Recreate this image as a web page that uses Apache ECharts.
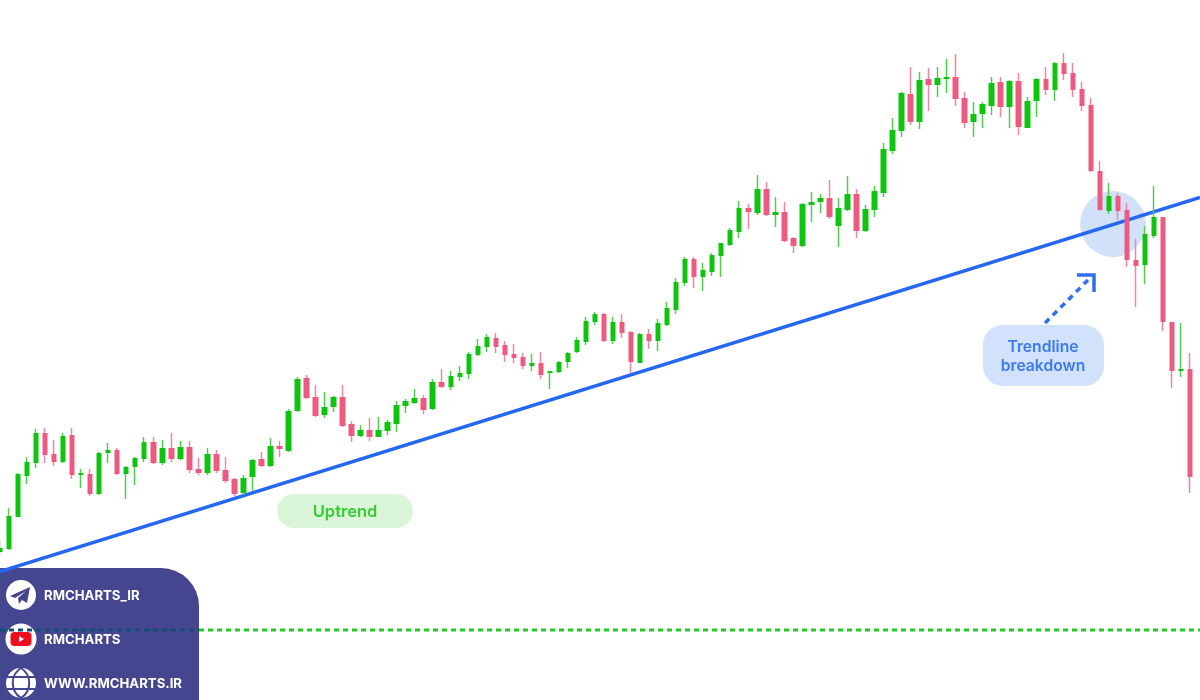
<!DOCTYPE html>
<html><head><meta charset="utf-8">
<style>html,body{margin:0;padding:0;background:#fff}#c{width:1200px;height:700px;filter:blur(0.6px)}</style>
<script src="https://cdn.jsdelivr.net/npm/echarts@6/dist/echarts.min.js"></script>
</head><body><div id="c"></div>
<script>
const opens=[148,151,183,224,237,267,246,238,265,225,226,206,247,250,226,233,241,258,237,252,241,253,231,227,246,230,221,207,223,241,234,254,249,289,322,303,285,293,303,276,264,270,263,269,276,294,297,302,291,318,313,323,326,345,353,362,355,346,343,334,337,327,328,338,348,358,378,386,359,378,368,337,366,359,375,390,417,441,423,428,444,455,468,492,487,511,485,488,462,454,495,498,502,474,490,506,469,490,507,549,569,606,578,621,615,621,623,602,578,586,594,618,593,619,572,599,621,610,637,627,611,595,529,489,504,490,440,435,464,483,378,329,331];
const closes=[152,184,226,238,267,245,238,264,225,227,206,247,250,226,233,242,258,237,252,241,253,230,227,246,229,219,206,222,240,234,254,251,289,321,302,284,293,303,274,264,270,263,270,278,295,299,302,290,318,313,324,327,346,354,363,353,345,342,334,337,325,329,338,347,360,379,386,359,378,367,338,366,359,377,392,418,441,423,430,445,457,470,492,488,511,485,488,459,454,496,498,502,483,492,506,469,491,509,551,570,607,578,620,615,622,623,601,577,586,596,617,593,619,573,599,621,610,637,626,610,594,529,490,504,489,440,434,466,483,378,329,331,223];
const lows=[145,150,183,216,232,237,234,237,221,212,204,205,237,225,201,215,238,236,235,238,240,227,225,225,227,217,204,205,209,233,233,243,248,288,301,283,282,288,273,258,263,259,263,265,268,287,296,286,290,312,310,319,321,344,348,347,338,337,331,329,321,311,327,332,347,355,375,358,356,362,327,337,351,349,374,386,414,412,409,424,423,454,462,471,485,484,473,458,447,453,478,487,481,453,489,462,468,483,503,546,563,575,571,589,603,607,594,572,563,572,585,583,572,565,572,583,605,599,620,603,589,528,489,486,480,433,393,416,462,369,312,323,207];
const highs=[160,192,227,243,271,272,260,267,272,231,231,248,257,252,234,243,263,263,260,267,259,259,242,252,250,243,222,225,241,248,262,259,291,323,325,315,308,304,315,279,275,282,283,280,299,301,311,305,321,331,329,334,348,361,366,367,359,356,347,346,348,329,339,348,363,383,388,387,383,386,369,367,371,381,398,422,443,443,437,447,457,472,499,496,525,518,503,498,463,497,508,506,520,502,524,511,495,514,557,582,608,633,628,632,633,641,646,608,598,598,623,623,620,627,603,622,633,638,647,637,618,602,539,517,507,497,461,474,514,483,378,377,347];
const categories=opens.map((_,i)=>'C'+(i+1));
const trendX=[0,1200], trendY=[128.4,502.6];
const supportX=[0,1200], supportLevel=[70,70];
const arrowX=[1045,1088], arrowY=[377,420];

const candleData=opens.map((o,i)=>[o,closes[i],lows[i],highs[i]]);
const bodyData=opens.map((o,i)=>[o,closes[i],Math.min(o,closes[i]),Math.max(o,closes[i])]);
const UP='#0fc40f', DOWN='#ec5a80', UPW='#4ed04e', DOWNW='#f284a2', PANEL='#45468f';
const font='Inter, "Open Sans", sans-serif';
const chart=echarts.init(document.getElementById('c'),null,{renderer:'canvas'});
function txt(x,y,t,size,color,weight,align){return {type:'text',z:1,style:{x,y,text:t,fontFamily:font,fontSize:size,fontWeight:weight,fill:color,align:align||'left',verticalAlign:'middle'}};}
chart.setOption({
 animation:false,backgroundColor:'#fff',
 grid:[{left:0,top:0,width:1190,height:700},{left:0,top:0,width:1200,height:700}],
 xAxis:[{type:'category',data:categories,show:false,gridIndex:0,boundaryGap:false},{type:'value',min:0,max:1200,show:false,gridIndex:1}],
 yAxis:[{type:'value',min:0,max:700,show:false,gridIndex:0},{type:'value',min:0,max:700,show:false,gridIndex:1}],
 graphic:[
  {type:'circle',z:0,shape:{cx:1113,cy:224,r:33},style:{fill:'#d1e1fa'}},
  {type:'rect',z:0,shape:{x:277,y:494,width:136,height:34,r:17},style:{fill:'#daf5d8'}},
  {type:'rect',z:0,shape:{x:983,y:325,width:121,height:61,r:20},style:{fill:'#d2e2fc'}},
  txt(345,512.5,'Uptrend',16.5,'#35cc35',600,'center'),
  txt(1043,347,'Trendline',15.7,'#3c7bee',600,'center'),
  txt(1043,366,'breakdown',15.7,'#3c7bee',600,'center'),
  {type:'polyline',z:1,shape:{points:[[1077,275],[1094,275],[1094,292]]},style:{stroke:'#2f6fed',lineWidth:3.5,fill:null}},
  {type:'rect',z:0,shape:{x:0,y:568,width:199,height:132,r:[0,38,0,0]},style:{fill:PANEL}},
  {type:'circle',z:0,shape:{cx:21,cy:595,r:15},style:{fill:'#fff'}},
  {type:'polygon',z:0,shape:{points:[[10,596],[30,587],[27,603],[22,600],[19,604],[18,598],[26,591],[15,598]]},style:{fill:PANEL}},
  {type:'circle',z:0,shape:{cx:21,cy:639,r:15.5},style:{fill:'#fff'}},
  {type:'rect',z:0,shape:{x:10.5,y:632,width:21,height:14,r:4},style:{fill:'#ee0f1e'}},
  {type:'polygon',z:0,shape:{points:[[19,636],[24,639],[19,642]]},style:{fill:'#fff'}},
  {type:'circle',z:0,shape:{cx:21,cy:683,r:15},style:{fill:'#fff'}},
  {type:'line',z:0,shape:{x1:7,y1:677,x2:35,y2:677},style:{stroke:PANEL,lineWidth:2}},
  {type:'line',z:0,shape:{x1:7,y1:689,x2:35,y2:689},style:{stroke:PANEL,lineWidth:2}},
  {type:'bezierCurve',z:0,shape:{x1:21,y1:668,cpx1:10,cpy1:675,cpx2:10,cpy2:691,x2:21,y2:698},style:{stroke:PANEL,lineWidth:2,fill:null}},
  {type:'bezierCurve',z:0,shape:{x1:21,y1:668,cpx1:32,cpy1:675,cpx2:32,cpy2:691,x2:21,y2:698},style:{stroke:PANEL,lineWidth:2,fill:null}},
  txt(44,596,'RMCHARTS_IR',13.2,'#fff',700),
  txt(44,640,'RMCHARTS',13.2,'#fff',700),
  txt(44,684,'WWW.RMCHARTS.IR',13.2,'#fff',700)
 ],
 series:[
  {type:'line',name:'Trendline',xAxisIndex:1,yAxisIndex:1,z:2,symbol:'none',data:trendX.map((x,i)=>[x,trendY[i]]),lineStyle:{color:'#2468f2',width:3.5}},
  {type:'line',name:'Support',xAxisIndex:1,yAxisIndex:1,z:2,symbol:'none',data:[[supportX[0],supportLevel[0]],[199,supportLevel[0]]],lineStyle:{color:'#0e4f78',width:3,type:[5,4]}},
  {type:'line',name:'Support',xAxisIndex:1,yAxisIndex:1,z:2,symbol:'none',data:[[199,supportLevel[1]],[supportX[1],supportLevel[1]]],lineStyle:{color:'#22cc22',width:3,type:[5,4]}},
  {type:'line',name:'Arrow',xAxisIndex:1,yAxisIndex:1,z:2,symbol:'none',data:arrowX.map((x,i)=>[x,arrowY[i]]),lineStyle:{color:'#2f6fed',width:3.5,type:[6,5]}},
  {type:'candlestick',name:'Wicks',xAxisIndex:0,yAxisIndex:0,z:3,barWidth:1,data:candleData,itemStyle:{color:UPW,color0:DOWNW,borderColor:UPW,borderColor0:DOWNW,borderWidth:1.5}},
  {type:'candlestick',name:'Bodies',xAxisIndex:0,yAxisIndex:0,z:4,barWidth:6,data:bodyData,itemStyle:{color:UP,color0:DOWN,borderColor:UP,borderColor0:DOWN,borderWidth:0}}
 ]
});
</script></body></html>
